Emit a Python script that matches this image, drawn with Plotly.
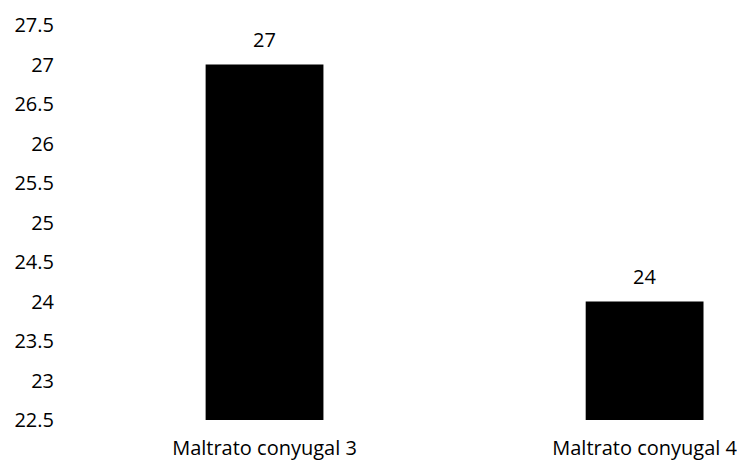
import plotly.graph_objects as go

categories = ["Maltrato conyugal 3", "Maltrato conyugal 4"]
values = [27, 24]
y_ticks = [22.5, 23, 23.5, 24, 24.5, 25, 25.5, 26, 26.5, 27, 27.5]

font = dict(family="Open Sans, Lato, sans-serif", size=20, color="#000000")

fig = go.Figure()
fig.add_trace(go.Bar(
    x=categories, y=values,
    marker=dict(color="#000000", line=dict(width=0)),
    width=0.31,
))
for c, v in zip(categories, values):
    fig.add_annotation(x=c, y=v, text=str(v), showarrow=False,
                       yshift=25, font=font)

fig.update_layout(
    width=737, height=455,
    margin=dict(l=53, r=5, t=17, b=43),
    paper_bgcolor="white", plot_bgcolor="white",
    showlegend=False,
    font=font,
    xaxis=dict(range=[-0.5355, 1.251], showline=False, showgrid=False,
               ticks="", ticklabelstandoff=14, tickfont=font,
               automargin=False),
    yaxis=dict(range=[22.5, 27.5], tickvals=y_ticks,
               ticktext=[f"{t:g}" for t in y_ticks],
               showgrid=False, showline=False, zeroline=False,
               ticks="", ticklabelstandoff=6, tickfont=font,
               automargin=False),
)
fig.write_html("out.html")
